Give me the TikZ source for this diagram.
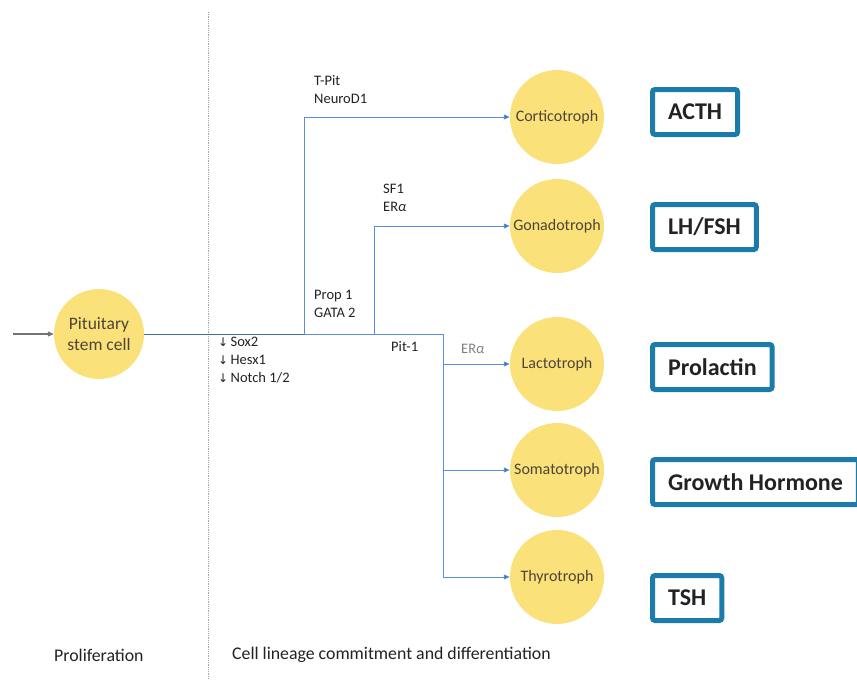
\documentclass[tikz,border=0pt]{standalone}
\usepackage{fontspec}
\setmainfont{Carlito}
\newfontfamily\symfont{DejaVu Sans}
\usetikzlibrary{arrows.meta}
\definecolor{cellfill}{HTML}{FAE17A}
\definecolor{celltext}{HTML}{4F4436}
\definecolor{linkblue}{HTML}{5B8ED8}
\definecolor{tipblue}{HTML}{2F5DB5}
\definecolor{stemline}{HTML}{3F6F96}
\definecolor{boxblue}{HTML}{1B7BAA}
\definecolor{txt}{HTML}{222222}
\tikzset{
  cell/.style={circle,fill=cellfill,minimum size=94pt,inner sep=0pt,text=celltext,font=\fontsize{16}{18}\selectfont,align=center},
  hormone/.style={draw=boxblue,line width=5pt,rounded corners=2.5pt,fill=white,font=\bfseries\fontsize{24}{26}\selectfont,text=txt,inner xsep=15.5pt,inner ysep=0pt,minimum height=45pt,anchor=west},
  lbl/.style={font=\fontsize{14.5}{18}\selectfont,text=txt,align=left,anchor=north west,inner sep=0pt},
  link/.style={draw=linkblue,line width=1pt},
  linkarrow/.style={link,-{Triangle[length=6pt,width=5pt,fill=tipblue]}},
  foot/.style={font=\fontsize{17.8}{20}\selectfont,text=txt,anchor=west,inner sep=0pt}
}
\begin{document}
\begin{tikzpicture}[x=1pt,y=-1pt]
\useasboundingbox (0,0) rectangle (857,680);
% divider
\draw[gray!70,densely dotted,line width=0.8pt] (208,12) -- (208,680);
% cells
\node[cell,minimum size=90pt,font=\fontsize{17.5}{20.5}\selectfont] (stem) at (99,334) {Pituitary\\stem cell};
\node[cell] (cort) at (557,117) {Corticotroph};
\node[cell] (gona) at (557,226) {Gonadotroph};
\node[cell] (lact) at (557,364) {Lactotroph};
\node[cell] (soma) at (557,470) {Somatotroph};
\node[cell] (thyr) at (557,577) {Thyrotroph};
% hormones
\node[hormone] (acth) at (650,112) {ACTH};
\node[hormone] (lhfsh) at (650,227) {LH/FSH};
\node[hormone] (prl) at (650,367) {Prolactin};
\node[hormone] (gh) at (650,482) {Growth Hormone};
\node[hormone] (tsh) at (650,598) {TSH};
% incoming
\coordinate (in) at (13,334);
\draw[draw=gray!90!black,line width=1.2pt,-{Triangle[length=6pt,width=5pt]}] (in) -- (stem.west);
% junctions
\coordinate (j1) at (304,334);
\coordinate (j2) at (374,334);
\coordinate (j3) at (443,334);
\coordinate (t1) at (443,577);
\draw[draw=stemline,line width=1pt] (stem.east) -- (j1);
\draw[link] (j1) -- (j3) -- (t1);
\draw[linkarrow] (j1) |- (cort.west);
\draw[linkarrow] (j2) |- (gona.west);
\draw[linkarrow] (j3 |- lact.west) -- (lact.west);
\draw[linkarrow] (j3 |- soma.west) -- (soma.west);
\draw[linkarrow] (t1) -- (thyr.west);
% labels
\node[lbl] (tpit) at (314,75) {T-Pit\\NeuroD1};
\node[lbl] (sf1) at (383,184) {SF1\\ER{\itshape α}};
\node[lbl] (prop) at (314,290) {Prop 1\\GATA 2};
\node[lbl] (pit1) at (391,341) {Pit-1};
\node[lbl,text=gray] (era) at (461,344) {ER{\itshape α}};
\node[lbl] (sox) at (218,337) {{\symfont\fontsize{12}{14}\selectfont ↓}\,Sox2\\{\symfont\fontsize{12}{14}\selectfont ↓}\,Hesx1\\{\symfont\fontsize{12}{14}\selectfont ↓}\,Notch 1/2};
% footer
\node[foot] (prolif) at (54,655) {Proliferation};
\node[foot] (diff) at (232,655) {Cell lineage commitment and differentiation};
\end{tikzpicture}
\end{document}
